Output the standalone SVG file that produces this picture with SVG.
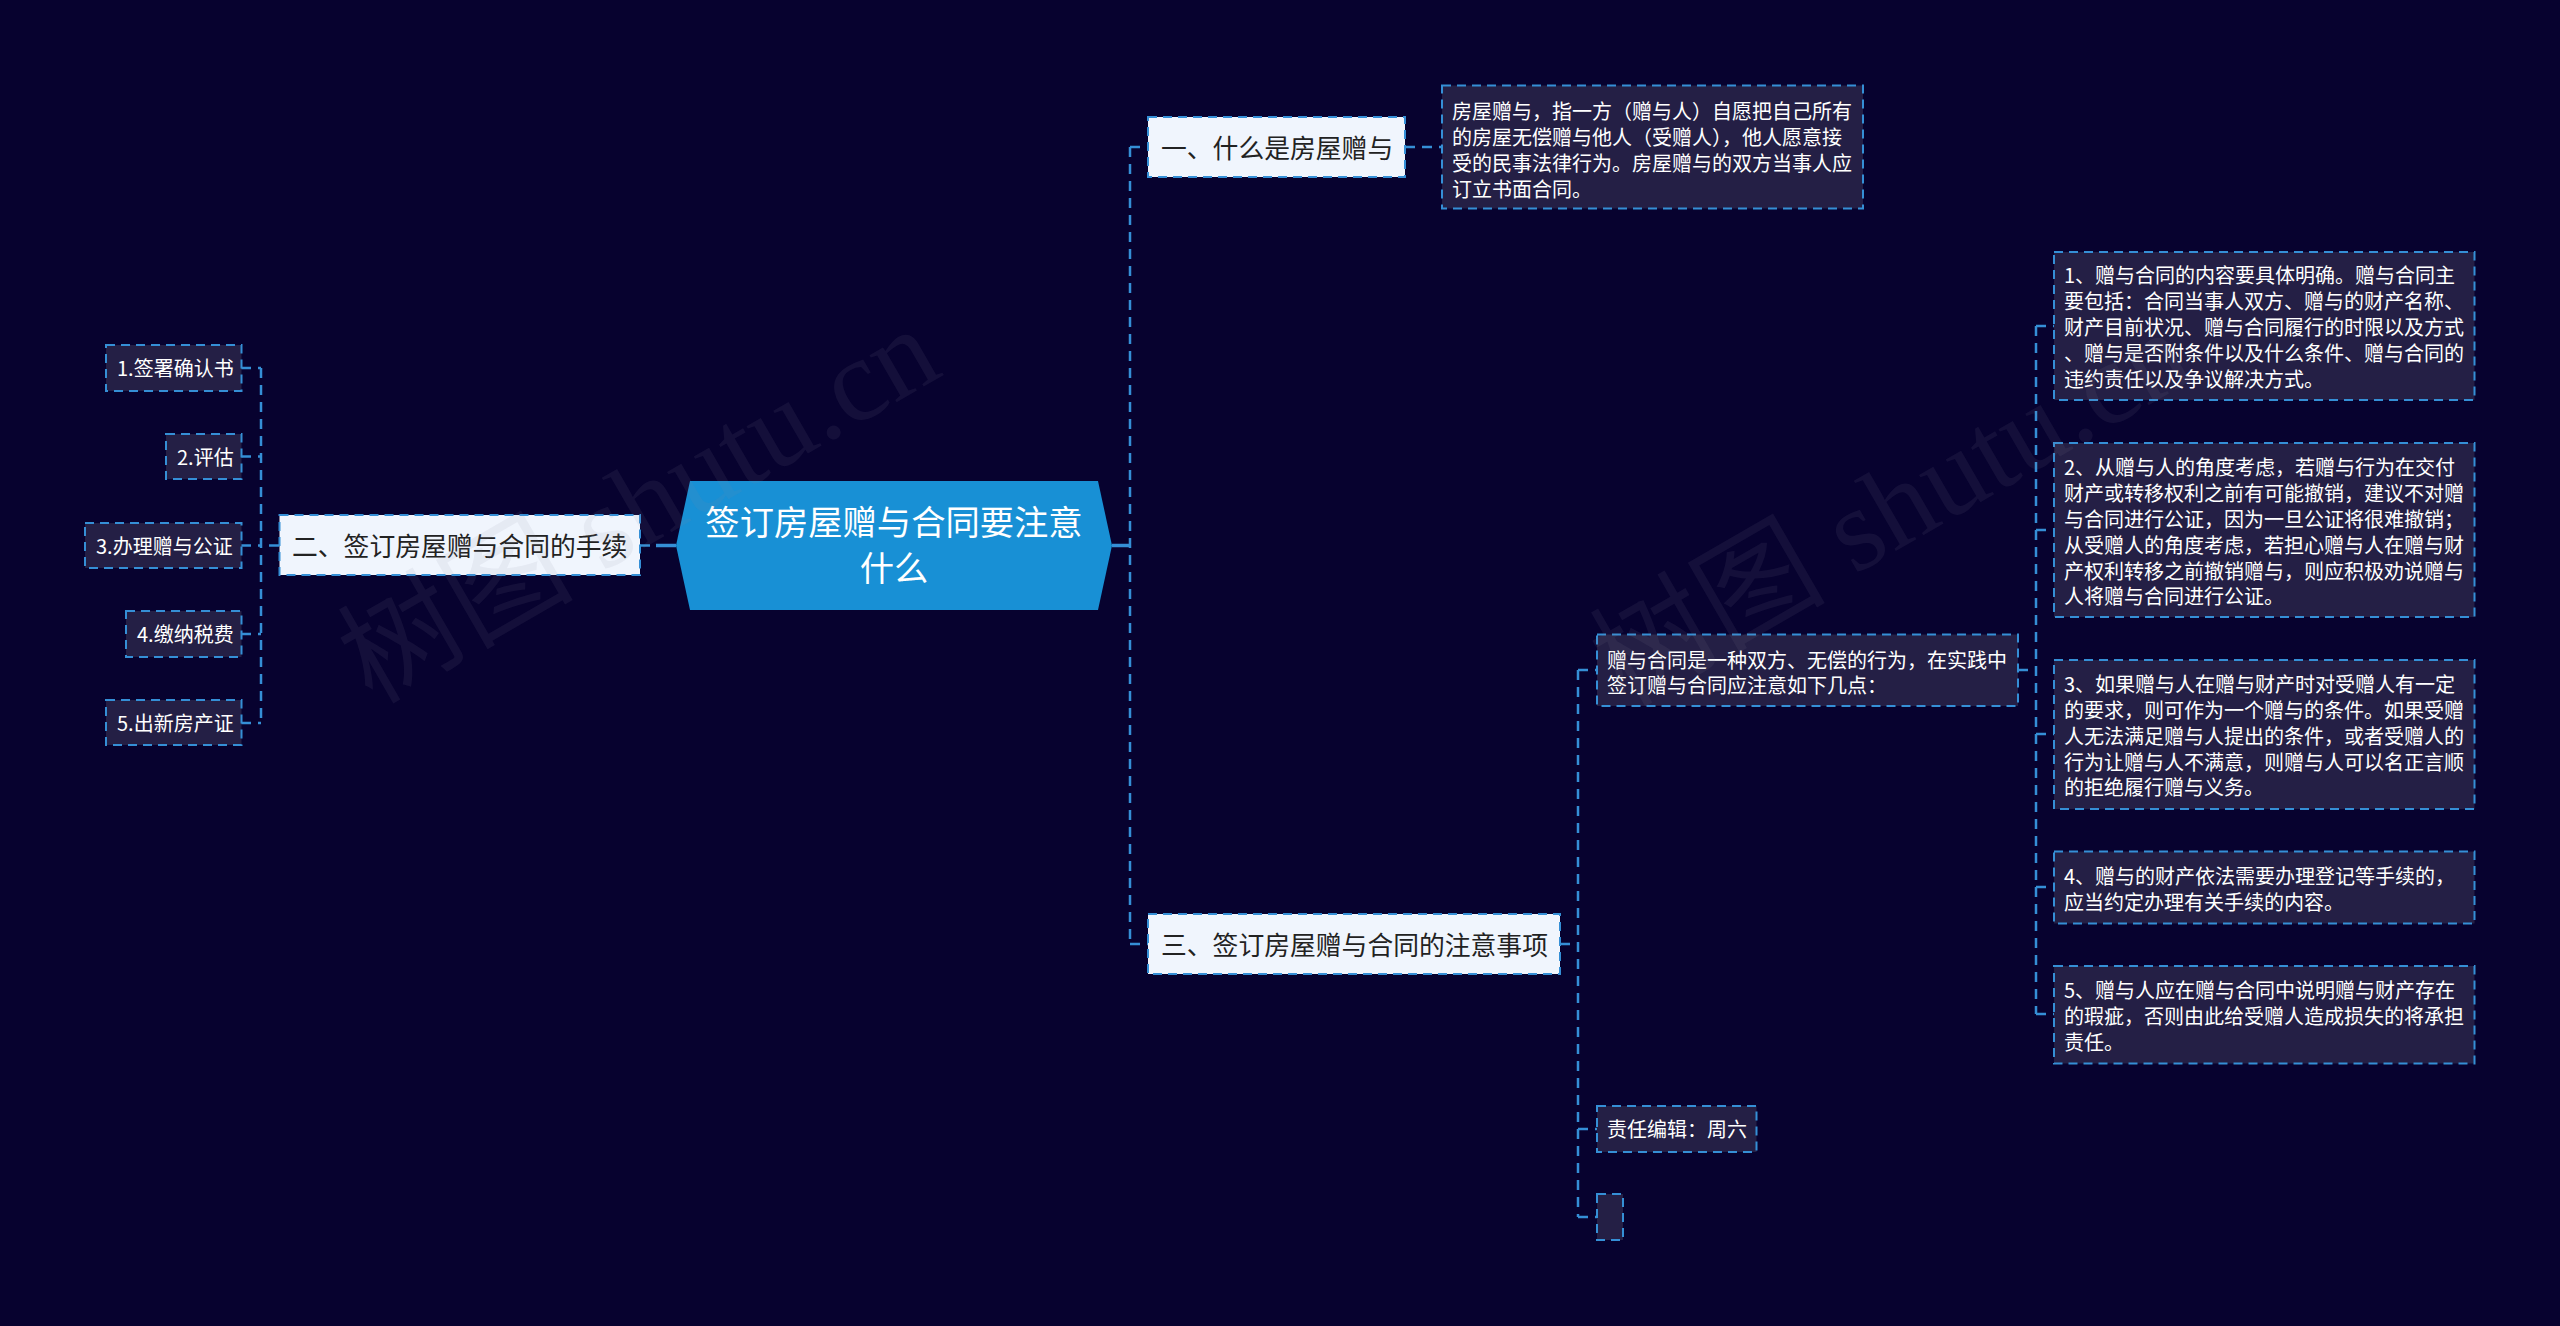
<svg xmlns="http://www.w3.org/2000/svg" width="2560" height="1326" viewBox="0 0 2560 1326">
<style>
text{font-family:"Noto Sans CJK SC","Noto Sans",sans-serif}
.bg{fill:#07022f}
.d rect{fill:#241f45;stroke:#358fd6;stroke-width:2;stroke-dasharray:9 6}
.d text{fill:#fff;font-size:20px}
.l rect{fill:#f0f5fd;stroke:#358fd6;stroke-width:2;stroke-dasharray:9 6}
.l text{fill:#222;font-size:25.8px}
.c polygon{fill:#1890d5}
.c text{fill:#fff;font-size:34.3px;text-anchor:middle}
#connectors path{fill:none;stroke:#358fd6;stroke-width:2.5;stroke-dasharray:10 7}
#connectors path.s{stroke-width:3.5;stroke-dasharray:none}
.w text{font-family:"Liberation Serif","Noto Sans CJK SC",serif;font-size:118px;fill:#8a8aa0;fill-opacity:.1}
</style>
<rect class="bg" width="2560" height="1326"/>
<g id="connectors">
<path class="s" d="M676 545.500H656"/>
<path class="s" d="M1112 545.500H1130"/>
<path d="M640 545.500H656"/>
<path d="M1130 147V944"/>
<path d="M1130 147H1148"/>
<path d="M1130 944H1148"/>
<path d="M1405 147H1442"/>
<path d="M279 545.500H260"/>
<path d="M261 368V723"/>
<path d="M241 368H261"/>
<path d="M241 456.500H261"/>
<path d="M241 545.500H261"/>
<path d="M241 634H261"/>
<path d="M241 723H261"/>
<path d="M1560 944H1578"/>
<path d="M1578 670V1217"/>
<path d="M1578 670H1597"/>
<path d="M1578 1129H1597"/>
<path d="M1578 1217H1597"/>
<path d="M2018 670H2036"/>
<path d="M2036 326V1014"/>
<path d="M2036 326H2054"/>
<path d="M2036 530H2054"/>
<path d="M2036 734H2054"/>
<path d="M2036 887H2054"/>
<path d="M2036 1014H2054"/>
</g>
<g id="root" class="c"><polygon points="676,545.500 690,481 1098,481 1112,545.500 1098,610 690,610"/><text x="894" y="535">签订房屋赠与合同要注意</text><text x="894" y="581">什么</text></g>
<g id="n1" class="l"><rect x="1148" y="117" width="257" height="60"/><text x="1161" y="158">一、什么是房屋赠与</text></g>
<g id="n1a" class="d"><rect x="1442" y="85.500" width="421" height="123"/><text x="1452" y="119">房屋赠与，指一方（赠与人）自愿把自己所有</text><text x="1452" y="145">的房屋无偿赠与他人（受赠人），他人愿意接</text><text x="1452" y="171">受的民事法律行为。房屋赠与的双方当事人应</text><text x="1452" y="196.500">订立书面合同。</text></g>
<g id="n2" class="l"><rect x="279.500" y="515" width="360.500" height="60"/><text x="292" y="556">二、签订房屋赠与合同的手续</text></g>
<g id="n2a" class="d"><rect x="106" y="345" width="135.500" height="46"/><text x="117" y="376">1.签署确认书</text></g>
<g id="n2b" class="d"><rect x="166" y="434" width="75.500" height="45"/><text x="177" y="465">2.评估</text></g>
<g id="n2c" class="d"><rect x="85" y="523" width="156.500" height="45"/><text x="96" y="554">3.办理赠与公证</text></g>
<g id="n2d" class="d"><rect x="126" y="611" width="115.500" height="46"/><text x="137" y="642">4.缴纳税费</text></g>
<g id="n2e" class="d"><rect x="106" y="700" width="135.500" height="45"/><text x="117" y="731">5.出新房产证</text></g>
<g id="n3" class="l"><rect x="1148" y="914" width="412" height="60"/><text x="1161" y="955">三、签订房屋赠与合同的注意事项</text></g>
<g id="n3a" class="d"><rect x="1597" y="634.500" width="421" height="71.500"/><text x="1607" y="667.500">赠与合同是一种双方、无偿的行为，在实践中</text><text x="1607" y="693">签订赠与合同应注意如下几点：</text></g>
<g id="n3b" class="d"><rect x="1597" y="1106" width="159.500" height="46"/><text x="1607" y="1137">责任编辑：周六</text></g>
<g id="n3c" class="d"><rect x="1597" y="1194" width="26" height="46"/></g>
<g id="r1" class="d"><rect x="2054" y="252" width="420.500" height="148"/><text x="2064" y="283">1、赠与合同的内容要具体明确。赠与合同主</text><text x="2064" y="309">要包括：合同当事人双方、赠与的财产名称、</text><text x="2064" y="335">财产目前状况、赠与合同履行的时限以及方式</text><text x="2064" y="361">、赠与是否附条件以及什么条件、赠与合同的</text><text x="2064" y="386.500">违约责任以及争议解决方式。</text></g>
<g id="r2" class="d"><rect x="2054" y="443" width="420.500" height="174"/><text x="2064" y="475">2、从赠与人的角度考虑，若赠与行为在交付</text><text x="2064" y="501">财产或转移权利之前有可能撤销，建议不对赠</text><text x="2064" y="527">与合同进行公证，因为一旦公证将很难撤销；</text><text x="2064" y="552.500">从受赠人的角度考虑，若担心赠与人在赠与财</text><text x="2064" y="578.500">产权利转移之前撤销赠与，则应积极劝说赠与</text><text x="2064" y="604">人将赠与合同进行公证。</text></g>
<g id="r3" class="d"><rect x="2054" y="660" width="420.500" height="149"/><text x="2064" y="691.500">3、如果赠与人在赠与财产时对受赠人有一定</text><text x="2064" y="717.500">的要求，则可作为一个赠与的条件。如果受赠</text><text x="2064" y="743.500">人无法满足赠与人提出的条件，或者受赠人的</text><text x="2064" y="769.500">行为让赠与人不满意，则赠与人可以名正言顺</text><text x="2064" y="795">的拒绝履行赠与义务。</text></g>
<g id="r4" class="d"><rect x="2054" y="851.500" width="420.500" height="72"/><text x="2064" y="883.500">4、赠与的财产依法需要办理登记等手续的，</text><text x="2064" y="909.500">应当约定办理有关手续的内容。</text></g>
<g id="r5" class="d"><rect x="2054" y="966" width="420.500" height="97.500"/><text x="2064" y="998">5、赠与人应在赠与合同中说明赠与财产存在</text><text x="2064" y="1024">的瑕疵，否则由此给受赠人造成损失的将承担</text><text x="2064" y="1050">责任。</text></g>
<g class="w"><text transform="translate(372 705) rotate(-30)">树图 shutu.cn</text><text transform="translate(1624 708) rotate(-30)">树图 shutu.cn</text></g>
</svg>
